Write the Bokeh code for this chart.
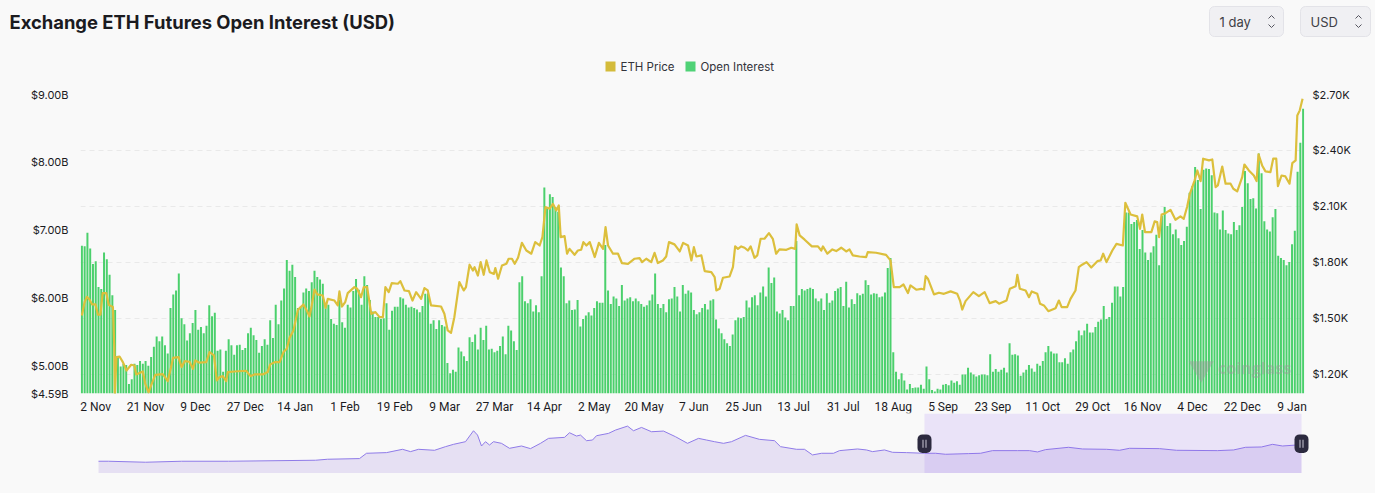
from bokeh.embed import file_html
from bokeh.layouts import column
from bokeh.models import (BoxAnnotation, ColumnDataSource, FixedTicker, GlobalInlineStyleSheet, Grid,
                          Label, LinearAxis, Range1d)
from bokeh.plotting import figure
from bokeh.resources import INLINE

BG = "#f9f9f9"
GREEN = "#4bd06c"
GOLD = "#dcbf3c"
INK = "#1b1b1f"

# open interest per day, $B
oi_2023 = [
    6.77, 6.76, 6.96, 6.73, 6.50, 6.54, 6.16, 6.13, 6.67, 6.57,
    6.34, 6.04, 5.82, 5.14, 4.99, 5.03, 5.01, 4.73, 4.80, 5.03,
    5.01, 5.07, 5.03, 5.07, 5.00, 5.13, 5.28, 5.43, 5.36, 5.43,
    5.30, 5.18, 5.85, 6.05, 6.11, 6.36, 5.70, 5.61, 5.37, 5.48,
    5.63, 5.82, 5.53, 5.57, 5.48, 5.59, 5.89, 5.73, 5.78, 5.22,
    5.24, 4.91, 5.22, 5.39, 5.30, 5.16, 5.30, 5.31, 5.23, 5.26,
    5.48, 5.56, 5.45, 5.38, 5.19, 5.29, 5.39, 5.31, 5.67, 5.41,
    5.90, 5.61, 5.96, 6.14, 6.56, 6.40, 6.49, 6.31, 5.85, 5.87,
    6.08, 6.14, 6.10, 6.23, 6.40, 6.31, 6.27, 6.21, 5.90, 5.90,
    5.69, 5.62, 5.60, 5.97, 5.64, 5.56, 5.90, 5.86, 6.10, 6.28,
    6.12, 5.90, 6.32, 6.19, 5.97, 5.80, 5.72, 5.72, 5.69, 5.70,
    5.92, 5.53, 5.81, 5.87, 5.87, 6.01, 5.99, 5.90, 5.86, 5.87,
    5.85, 5.83, 5.79, 5.88, 6.06, 6.07, 5.62, 5.67, 5.54, 5.67,
    5.60, 5.58, 5.04, 4.89, 4.94, 4.91, 5.27, 5.21, 5.14, 5.07,
    5.42,
]
oi_2024 = [
    5.35, 5.46, 5.24, 5.56, 5.38, 5.59, 5.24, 5.25, 5.20, 5.22,
    5.29, 5.43, 5.17, 5.59, 5.52, 5.36, 5.23, 6.23, 6.32, 5.95,
    5.92, 5.98, 5.80, 5.89, 5.79, 6.32, 7.63, 7.34, 7.53, 7.49,
    7.34, 7.27, 6.45, 6.32, 5.92, 5.96, 5.82, 5.83, 5.97, 5.58,
    5.69, 5.74, 5.79, 5.74, 5.85, 5.95, 5.93, 5.93, 6.78, 6.11,
    5.91, 6.02, 5.99, 5.88, 6.19, 5.96, 5.99, 6.01, 5.95, 5.99,
    5.95, 5.91, 5.87, 5.89, 5.96, 6.05, 6.36, 5.91, 5.85, 5.91,
    5.79, 5.98, 5.99, 6.16, 6.02, 5.80, 6.19, 6.06, 6.11, 6.08,
    5.82, 5.76, 5.79, 5.85, 5.91, 5.83, 5.96, 5.98, 5.68, 5.55,
    5.48, 5.39, 5.33, 5.29, 5.46, 5.67, 5.71, 5.70, 5.72, 5.96,
    5.86, 6.01, 6.04, 5.89, 6.08, 6.17, 6.02, 6.45, 6.22, 6.30,
    5.80, 5.77, 5.82, 5.71, 5.67, 5.88, 5.88, 6.84, 6.04, 6.13,
    6.11, 6.13, 6.15, 6.13, 5.99, 5.95, 5.99, 5.82, 6.07, 5.93,
    5.96, 6.10, 6.14, 6.16, 5.88, 6.24, 5.86, 5.98, 5.91, 6.07,
    6.04, 6.06, 6.26, 6.19, 6.05, 6.07, 6.06, 6.01, 6.02, 6.08,
    6.44, 6.59, 5.20, 4.91, 4.80, 4.89, 4.78, 4.65, 4.73, 4.67,
    4.68, 4.68,
]
oi_2025 = [
    4.72, 4.66, 4.99, 4.80, 4.64, 4.62, 4.66, 4.65, 4.72, 4.73,
    4.71, 4.78, 4.75, 4.77, 4.72, 4.87, 4.87, 4.97, 4.90, 4.87,
    4.84, 4.86, 4.87, 4.87, 4.86, 5.17, 4.91, 4.95, 4.91, 4.94,
    4.97, 4.90, 5.33, 5.16, 5.17, 5.15, 4.85, 4.90, 4.94, 5.01,
    4.96, 4.91, 5.03, 5.00, 5.07, 5.20, 5.29, 5.21, 5.18, 5.18,
    5.05, 5.05, 5.11, 5.03, 5.20, 5.24, 5.36, 5.52, 5.45, 5.52,
    5.62, 5.49, 5.49, 5.57, 5.65, 5.68, 5.88, 5.69, 5.72, 5.93,
    6.17, 6.17, 6.02, 6.16, 7.26, 7.26, 7.09, 7.12, 7.15, 6.72,
    7.00, 6.67, 6.56, 6.67, 6.76, 6.93, 6.48, 7.21, 7.34, 7.06,
    7.10, 6.94, 7.01, 6.88, 6.78, 6.84, 7.05, 7.55, 7.65, 7.93,
    7.74, 7.31, 7.89, 7.91, 7.90, 7.81, 7.26, 7.25, 7.01, 7.29,
    7.00, 6.95, 6.94, 7.12, 7.00, 7.07, 7.34, 7.87, 7.69, 7.46,
    7.47, 7.32, 8.13, 7.84, 7.13, 7.01, 6.98, 7.19, 7.31, 6.62,
    6.59, 6.56, 6.48, 6.53, 6.79, 6.99, 7.86, 8.29, 8.79,
]

# ETH price, read at the turning points of the curve
eth_day = [
    0, 1.0, 1.8, 2.8, 3.7, 4.9, 5.8, 6.7, 7.5, 8.8, 9.7, 11.2, 11.7, 11.9, 12.5, 13.6, 14.8, 16.1, 17.8, 19.0,
    19.6, 22.0, 22.9, 24.1, 25.0, 26.5, 29.2, 31.0, 32.2, 32.9, 34.9, 36.0, 37.1, 38.9, 40.1, 40.9, 42.5, 44.9, 46.1, 47.7,
    48.7, 49.7, 50.9, 52.1, 52.7, 55.1, 59.3, 60.9, 62.3, 65.3, 67.1, 68.0, 69.6, 71.4, 72.8, 74.0, 75.0, 76.4, 78.0, 80.0,
    81.2, 82.2, 83.0, 84.0, 85.0, 87.0, 88.0, 88.8, 91.2, 92.4, 93.0, 93.9, 95.1, 96.0, 98.4, 99.4, 100.8, 101.8, 103.0, 104.5,
    106.0, 107.5, 108.7, 109.6, 110.8, 111.9, 114.1, 115.0, 116.5, 118.1, 119.4, 120.7, 122.5, 123.7, 124.9, 126.1, 129.7, 130.9, 132.1, 133.3,
    134.5, 136.3, 137.9, 138.7, 140.0, 141.2, 141.8, 143.0, 144.0, 145.1, 146.1, 147.3, 148.8, 149.3, 150.3, 151.7, 153.3, 154.1, 155.3, 156.3,
    157.5, 158.9, 160.5, 162.3, 163.7, 165.3, 166.3, 167.4, 168.9, 170.1, 171.3, 172.2, 172.9, 174.3, 175.2, 176.1, 177.9, 179.1, 180.3, 181.1,
    182.2, 183.4, 185.2, 186.7, 188.2, 189.1, 190.0, 191.8, 193.6, 195.0, 197.2, 199.6, 201.4, 202.3, 203.8, 205.6, 206.8, 208.0, 209.8, 211.0,
    212.0, 214.0, 215.9, 217.1, 218.9, 220.1, 221.0, 221.9, 223.7, 224.9, 227.3, 228.5, 229.1, 230.3, 231.5, 233.9, 235.1, 235.9, 236.9, 238.1,
    239.3, 240.5, 241.5, 242.9, 243.9, 245.1, 246.5, 248.1, 249.5, 250.7, 251.9, 254.4, 256.2, 257.6, 258.1, 259.2, 261.0, 263.6, 265.8, 267.0,
    267.6, 269.2, 271.0, 272.4, 274.2, 276.0, 277.2, 278.4, 280.8, 283.2, 283.8, 286.8, 290.4, 292.0, 293.2, 295.3, 296.7, 298.3, 299.2, 301.3,
    303.1, 304.1, 304.7, 305.5, 307.7, 309.5, 311.3, 313.7, 316.1, 317.1, 317.9, 319.1, 321.9, 323.9, 326.0, 327.8, 330.0, 331.2, 333.9, 335.1,
    337.2, 337.8, 338.7, 340.8, 342.0, 343.0, 345.0, 346.0, 347.4, 349.0, 351.6, 352.8, 353.8, 355.8, 357.0, 358.8, 360.0, 361.2, 362.8, 364.5,
    366.7, 367.9, 368.8, 370.0, 372.1, 373.6, 375.9, 376.8, 378.7, 381.1, 382.1, 382.9, 383.9, 386.2, 387.4, 388.3, 389.0, 389.9, 391.3, 393.1,
    394.9, 396.7, 397.9, 399.1, 400.1, 401.8, 402.8, 404.0, 404.9, 407.0, 408.2, 409.4, 410.2, 411.8, 413.0, 414.8, 415.8, 417.2, 419.0, 419.8,
    421.4, 423.2, 424.2, 424.9, 426.2, 427.4, 429.2, 430.2, 431.3, 431.9, 433.2, 434.6, 436.1, 437.1, 438.3, 438.9, 439.8, 440.8,
]
eth_price = [
    1516, 1588, 1616, 1600, 1575, 1575, 1520, 1521, 1636, 1636, 1573, 1561, 1346, 1096, 1293, 1296, 1266, 1221, 1252, 1248,
    1200, 1216, 1150, 1104, 1141, 1198, 1202, 1164, 1239, 1289, 1293, 1239, 1271, 1268, 1230, 1275, 1263, 1266, 1320, 1302,
    1168, 1186, 1191, 1164, 1213, 1216, 1220, 1191, 1200, 1200, 1213, 1254, 1266, 1266, 1320, 1338, 1396, 1436, 1546, 1575,
    1543, 1511, 1570, 1655, 1629, 1623, 1557, 1605, 1596, 1570, 1645, 1564, 1588, 1636, 1668, 1659, 1614, 1668, 1668, 1525,
    1534, 1507, 1507, 1668, 1641, 1689, 1686, 1700, 1650, 1647, 1596, 1641, 1605, 1663, 1650, 1570, 1564, 1525, 1436, 1423,
    1507, 1695, 1650, 1668, 1788, 1757, 1775, 1730, 1802, 1734, 1811, 1748, 1739, 1770, 1713, 1784, 1793, 1820, 1820, 1793,
    1825, 1905, 1864, 1847, 1909, 1891, 1936, 2097, 2088, 2114, 2079, 2106, 1936, 1941, 1847, 1873, 1841, 1864, 1868, 1909,
    1891, 1909, 1829, 1905, 1873, 1989, 1891, 1847, 1847, 1797, 1793, 1820, 1823, 1802, 1820, 1802, 1852, 1797, 1811, 1832,
    1909, 1897, 1859, 1905, 1891, 1811, 1882, 1832, 1838, 1754, 1748, 1722, 1650, 1659, 1718, 1725, 1775, 1886, 1873, 1886,
    1879, 1864, 1886, 1825, 1838, 1927, 1927, 1957, 1927, 1847, 1870, 1868, 1879, 1873, 2004, 1945, 1922, 1886, 1886, 1864,
    1886, 1847, 1870, 1861, 1879, 1859, 1870, 1838, 1832, 1829, 1855, 1852, 1841, 1811, 1668, 1668, 1682, 1636, 1677, 1654,
    1659, 1655, 1727, 1713, 1629, 1638, 1632, 1645, 1632, 1596, 1548, 1593, 1641, 1620, 1641, 1582, 1593, 1579, 1596, 1659,
    1673, 1734, 1659, 1650, 1614, 1645, 1632, 1579, 1570, 1539, 1555, 1596, 1561, 1561, 1605, 1650, 1775, 1788, 1802, 1773,
    1807, 1811, 1847, 1802, 1864, 1900, 1891, 2120, 2057, 2047, 1980, 2057, 1963, 1963, 2020, 2016, 1936, 2057, 2064, 2082,
    2029, 2047, 2034, 2097, 2168, 2239, 2293, 2236, 2356, 2347, 2352, 2204, 2213, 2314, 2222, 2222, 2195, 2181, 2257, 2325,
    2293, 2266, 2236, 2379, 2320, 2288, 2284, 2356, 2356, 2209, 2266, 2261, 2222, 2332, 2347, 2588, 2615, 2677,
]

tick_labels = [
    "2 Nov", "21 Nov", "9 Dec", "27 Dec", "14 Jan", "1 Feb", "19 Feb", "9 Mar", "27 Mar", "14 Apr", "2 May", "20 May", "7 Jun",
    "25 Jun", "13 Jul", "31 Jul", "18 Aug", "5 Sep", "23 Sep", "11 Oct", "29 Oct", "16 Nov", "4 Dec", "22 Dec", "9 Jan",
]
oi_ticks = [4.59, 5, 6, 7, 8, 9]
oi_labels = ["$4.59B", "$5.00B", "$6.00B", "$7.00B", "$8.00B", "$9.00B"]
eth_ticks = [1200, 1500, 1800, 2100, 2400, 2700]
eth_labels = ["$1.20K", "$1.50K", "$1.80K", "$2.10K", "$2.40K", "$2.70K"]

# full history shown in the range slider
overview_day = [
    0, 10, 47, 83, 130, 217, 229, 261, 268, 288, 304, 312, 320, 336, 347, 355, 367, 375, 379, 383,
    387, 391, 395, 403, 411, 423, 432, 442, 450, 466, 471, 478, 482, 488, 494, 498, 510, 517, 529, 535,
    543, 553, 565, 577, 589, 600, 608, 616, 625, 633, 647, 661, 676, 682, 698, 706, 714, 723, 735, 741,
    759, 768, 774, 786, 794, 808, 826, 837, 847, 870, 882, 894, 919, 931, 939, 947, 970, 984, 1008, 1021,
    1031, 1061, 1078, 1119, 1135, 1147, 1163, 1174, 1184, 1203,
]
overview_oi = [
    3.7, 3.7, 3.4, 3.7, 3.7, 4.0, 4.3, 4.5, 6.1, 6.3, 7.3, 6.6, 7.3, 7.0, 8.1, 8.8, 9.6, 12.9, 11.6, 8.3,
    9.6, 8.6, 9.6, 9.1, 7.6, 8.3, 7.5, 9.1, 10.6, 10.9, 12.3, 11.3, 11.6, 9.9, 10.1, 11.4, 12.1, 13.1, 14.3, 12.9,
    13.9, 12.6, 12.8, 11.1, 9.1, 10.6, 10.1, 9.6, 9.1, 9.6, 11.5, 10.3, 9.9, 8.1, 7.3, 7.3, 5.6, 6.1, 6.1, 6.9,
    7.4, 7.1, 6.6, 7.1, 6.4, 6.3, 6.1, 6.1, 5.8, 6.0, 6.1, 6.9, 6.9, 6.9, 6.5, 7.2, 7.9, 7.4, 7.3, 7.0,
    7.6, 7.5, 7.0, 6.9, 7.1, 7.9, 8.0, 8.8, 8.3, 8.7,
]
selection_start = 826
selection_end = 1203

oi = oi_2023 + oi_2024 + oi_2025
days = list(range(len(oi)))
tick_days = list(range(5, len(oi), 18))

# header strip, drawn in page pixels
header = figure(width=1375, height=86, x_range=Range1d(0, 1375), y_range=Range1d(86, 0), x_axis_location=None,
                y_axis_location=None, toolbar_location=None, output_backend="svg", min_border=0, frame_align=False,
                background_fill_color=BG, border_fill_color=BG, outline_line_color=None)
header.grid.visible = False
header.add_layout(Label(x=9, y=21, text="Exchange ETH Futures Open Interest (USD)", text_font="Inter",
                        text_font_style="bold", text_font_size="18.4px", text_color=INK, text_baseline="middle"))
for left, right, name, text_x in [(1209, 1283, "1 day", 1219), (1300, 1370, "USD", 1310)]:
    header.add_layout(BoxAnnotation(left=left, right=right, top=6, bottom=36, fill_color="#f0f0f3", fill_alpha=1,
                                    line_color="#e3e3e8", line_alpha=1, line_width=1, border_radius=5))
    header.add_layout(Label(x=text_x, y=21, text=name, text_font="Inter", text_font_size="13px", text_color="#3f3f46",
                            text_baseline="middle"))
    cx = right - 12
    header.multi_line(xs=[[cx - 3, cx, cx + 3], [cx - 3, cx, cx + 3]], ys=[[18, 15, 18], [24, 27, 24]],
                      line_color="#55555f", line_width=1, level="overlay")
for left, right, colour, text, text_x in [(605, 615, "#d4bb3a", "ETH Price", 620), (685, 695, "#4fd276", "Open Interest", 700)]:
    header.add_layout(BoxAnnotation(left=left, right=right, top=61, bottom=71, fill_color=colour, fill_alpha=1, line_color=None))
    header.add_layout(Label(x=text_x, y=66, text=text, text_font="Inter", text_font_size="11.5px", text_color="#33333a",
                            text_baseline="middle"))

# main chart
p = figure(width=1375, height=330, x_range=Range1d(-0.5, len(oi) - 0.5), y_range=Range1d(4.59, 9.0),
           toolbar_location=None, output_backend="svg", min_border_left=80, min_border_right=71, min_border_top=8,
           min_border_bottom=23, frame_align=False, background_fill_color=BG, border_fill_color=BG, outline_line_color=None)
p.extra_y_ranges = {"eth": Range1d(1098, 2700)}
p.grid.visible = False

source = ColumnDataSource(data=dict(day=days, oi=oi))
p.vbar(x="day", top="oi", bottom=4.59, width=0.72, source=source, fill_color=GREEN, line_color=None)
p.line(eth_day, eth_price, y_range_name="eth", line_color=GOLD, line_width=2.2, line_join="round")

p.add_layout(Grid(dimension=1, ticker=FixedTicker(ticks=eth_ticks), y_range_name="eth", grid_line_color="#e9e9e9",
                  grid_line_dash=[5, 4], grid_line_width=1))

p.xaxis.ticker = FixedTicker(ticks=tick_days)
p.xaxis.major_label_overrides = dict(zip(tick_days, tick_labels))
p.yaxis.ticker = FixedTicker(ticks=oi_ticks)
p.yaxis.major_label_overrides = dict(zip(oi_ticks, oi_labels))
right_axis = LinearAxis(y_range_name="eth", ticker=FixedTicker(ticks=eth_ticks),
                        major_label_overrides=dict(zip(eth_ticks, eth_labels)))
p.add_layout(right_axis, "right")
for axis in [p.xaxis[0], p.yaxis[0], right_axis]:
    axis.axis_line_color = None
    axis.major_tick_line_color = None
    axis.minor_tick_line_color = None
    axis.major_tick_out = 0
    axis.major_label_text_font = "Inter"
    axis.major_label_text_font_size = "11px"
    axis.major_label_text_color = INK
p.xaxis.major_label_text_font = "Roboto"
p.xaxis.major_label_text_font_size = "12px"
p.xaxis.major_label_standoff = 6
p.yaxis[0].major_label_standoff = 12
right_axis.major_label_standoff = 8

# watermark
p.scatter([404.2], [4.96], marker="inverted_triangle", size=25, fill_color="#999999", fill_alpha=0.45, line_color=None)
p.add_layout(Label(x=410.3, y=4.96, text="coinglass", text_font="Open Sans", text_font_style="bold", text_font_size="16px",
                   text_color="#999999", text_alpha=0.45, text_baseline="middle"))

# range slider
ov = figure(width=1375, height=61, x_range=Range1d(-18, 1222), y_range=Range1d(0, 18.1), x_axis_location=None,
            y_axis_location=None, toolbar_location=None, output_backend="svg", min_border_left=80, min_border_right=55,
            min_border_top=1, min_border_bottom=0, frame_align=False, margin=(-4, 0, 0, 0), background_fill_color=BG,
            border_fill_color=BG, outline_line_color=None)
ov.grid.visible = False
ov.varea(overview_day, y1=[0] * len(overview_day), y2=overview_oi, fill_color="#e6e0f3")
ov.line(overview_day, overview_oi, line_color="#8f7be8", line_width=1)
ov.add_layout(BoxAnnotation(left=selection_start, right=selection_end, fill_color="#9664f0", fill_alpha=0.15, line_color=None))
for edge in [selection_start, selection_end]:
    ov.add_layout(BoxAnnotation(left=edge - 7, right=edge + 7, bottom=6.2, top=11.8, fill_color="#2c2a3f", fill_alpha=1,
                                line_color=None, border_radius=5, level="overlay"))
    ov.add_layout(BoxAnnotation(left=edge - 2, right=edge - 1, bottom=7.8, top=10.2, fill_color="#c9c8d6", fill_alpha=1, line_color=None, level="overlay"))
    ov.add_layout(BoxAnnotation(left=edge + 1, right=edge + 2, bottom=7.8, top=10.2, fill_color="#c9c8d6", fill_alpha=1, line_color=None, level="overlay"))

page = column(header, p, ov, spacing=0)
page.stylesheets = [GlobalInlineStyleSheet(css=f"html, body {{ background: {BG}; }}")]

open("out.html", "w").write(file_html(page, INLINE))
